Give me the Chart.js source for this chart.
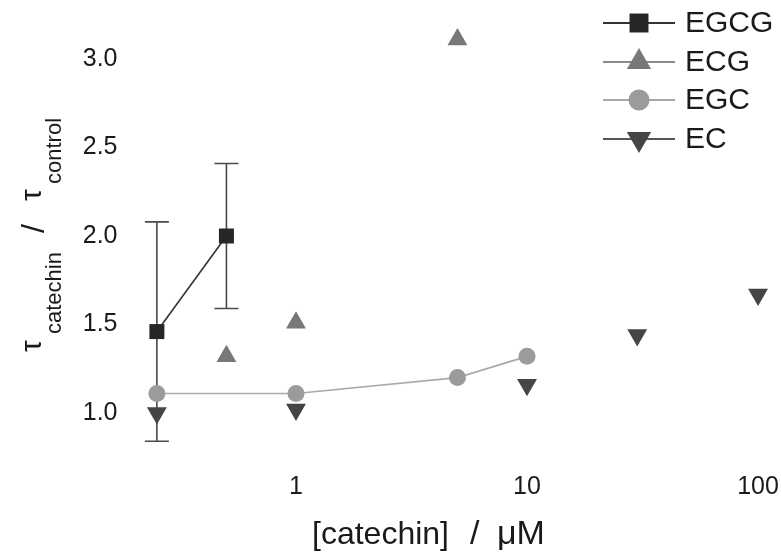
<!DOCTYPE html>
<html>
<head>
<meta charset="utf-8">
<script src="https://cdn.jsdelivr.net/npm/chart.js@4.4.1/dist/chart.umd.min.js"></script>
<style>
html,body{margin:0;padding:0;background:#fff;}
#wrap{width:781px;height:555px;position:relative;}
</style>
</head>
<body>
<div id="wrap"><canvas id="c" width="781" height="555"></canvas></div>
<script>
// ---- data ----
const seriesNames = ['EGCG', 'ECG', 'EGC', 'EC'];
const egcgX = [0.25, 0.5];
const egcgY = [1.46, 2.0];
const egcgErr = [0.62, 0.41];
const ecgX = [0.5, 1, 5];
const ecgY = [1.32, 1.51, 3.11];
const egcX = [0.25, 1, 5, 10];
const egcY = [1.11, 1.11, 1.20, 1.32];
const ecX = [0.25, 1, 10, 30, 100];
const ecY = [1.00, 1.02, 1.16, 1.44, 1.67];
const xTicks = [1, 10, 100];
const yTicks = [1.0, 1.5, 2.0, 2.5, 3.0];

const FONT = "'Liberation Sans', Arial, Helvetica, sans-serif";
const pts = (xs, ys) => xs.map((x, i) => ({x: x, y: ys[i]}));

const errorBars = {
  id: 'errorBars',
  beforeDatasetsDraw(chart) {
    const ctx = chart.ctx, xs = chart.scales.x, ys = chart.scales.y;
    ctx.save();
    ctx.strokeStyle = '#4a4a4a';
    ctx.lineWidth = 1.6;
    egcgX.forEach((xv, i) => {
      const px = xs.getPixelForValue(xv);
      const top = ys.getPixelForValue(egcgY[i] + egcgErr[i]);
      const bot = ys.getPixelForValue(egcgY[i] - egcgErr[i]);
      ctx.beginPath();
      ctx.moveTo(px, top); ctx.lineTo(px, bot);
      ctx.moveTo(px - 12, top); ctx.lineTo(px + 12, top);
      ctx.moveTo(px - 12, bot); ctx.lineTo(px + 12, bot);
      ctx.stroke();
    });
    ctx.restore();
  }
};

function drawMarker(ctx, style, x, y, r, color) {
  ctx.fillStyle = color;
  ctx.beginPath();
  if (style === 'rect') {
    const h = r * Math.SQRT1_2;
    ctx.rect(x - h, y - h, 2 * h, 2 * h);
  } else if (style === 'circle') {
    ctx.arc(x, y, r, 0, Math.PI * 2);
  } else if (style === 'triangle') {
    ctx.moveTo(x, y - r);
    ctx.lineTo(x + r * Math.sin(Math.PI / 3), y + r / 2);
    ctx.lineTo(x - r * Math.sin(Math.PI / 3), y + r / 2);
    ctx.closePath();
  } else if (style === 'down') {
    ctx.moveTo(x, y + r);
    ctx.lineTo(x + r * Math.sin(Math.PI / 3), y - r / 2);
    ctx.lineTo(x - r * Math.sin(Math.PI / 3), y - r / 2);
    ctx.closePath();
  }
  ctx.fill();
}

const legendAndTitles = {
  id: 'legendAndTitles',
  afterDraw(chart) {
    const ctx = chart.ctx;
    ctx.save();
    // legend
    const rowsY = [23, 62, 100, 139];
    const styles = [['rect', 13.4, '#262626', '#333333'],
                    ['triangle', 14, '#787878', '#8a8a8a'],
                    ['circle', 10.5, '#9b9b9b', '#a8a8a8'],
                    ['down', 14, '#454545', '#555555']];
    chart.data.datasets.forEach((ds, i) => {
      const y = rowsY[i];
      const s = styles[i];
      ctx.strokeStyle = s[3];
      ctx.lineWidth = 2;
      ctx.beginPath(); ctx.moveTo(603, y); ctx.lineTo(675, y); ctx.stroke();
      drawMarker(ctx, s[0], 639, y, s[1], s[2]);
      ctx.fillStyle = '#1a1a1a';
      ctx.font = '30px ' + FONT;
      ctx.textAlign = 'left';
      ctx.textBaseline = 'middle';
      ctx.fillText(ds.label, 685, y + 1);
    });
    // x title
    ctx.fillStyle = '#1a1a1a';
    ctx.textAlign = 'left';
    ctx.textBaseline = 'alphabetic';
    ctx.font = '32px ' + FONT;
    ctx.fillText('[catechin]', 312, 544);
    ctx.font = '34px ' + FONT;
    ctx.fillText('/', 470, 544);
    ctx.fillText('\u03BCM', 497, 544);
    // y title (rotated)
    ctx.translate(0, 352);
    ctx.rotate(-Math.PI / 2);
    ctx.font = '30px ' + FONT;
    ctx.fillText('\u03C4', 0, 41);
    ctx.font = '22px ' + FONT;
    ctx.fillText('catechin', 18, 61);
    ctx.font = '32px ' + FONT;
    ctx.fillText('/', 119, 44);
    ctx.font = '30px ' + FONT;
    ctx.fillText('\u03C4', 151, 41);
    ctx.font = '22px ' + FONT;
    ctx.fillText('control', 168, 61);
    ctx.restore();
  }
};

const noPad = s => { s.paddingLeft = 0; s.paddingRight = 0; s.paddingTop = 0; s.paddingBottom = 0; };

new Chart(document.getElementById('c'), {
  type: 'scatter',
  data: {
    datasets: [
      { label: seriesNames[0], data: pts(egcgX, egcgY), showLine: true,
        borderColor: '#333333', borderWidth: 1.6, backgroundColor: '#262626',
        pointStyle: 'rect', pointRadius: 10.6, pointBorderWidth: 0, pointBackgroundColor: '#262626' },
      { label: seriesNames[1], data: pts(ecgX, ecgY), showLine: false,
        backgroundColor: '#787878', pointStyle: 'triangle', pointRadius: 11.5,
        pointBorderWidth: 0, pointBackgroundColor: '#787878' },
      { label: seriesNames[2], data: pts(egcX, egcY), showLine: true,
        borderColor: '#aaaaaa', borderWidth: 1.6, backgroundColor: '#9b9b9b',
        pointStyle: 'circle', pointRadius: 8.5, pointBorderWidth: 0, pointBackgroundColor: '#9b9b9b' },
      { label: seriesNames[3], data: pts(ecX, ecY), showLine: false,
        backgroundColor: '#454545', pointStyle: 'triangle', pointRotation: 180, pointRadius: 11.5,
        pointBorderWidth: 0, pointBackgroundColor: '#454545' }
    ]
  },
  options: {
    responsive: false,
    animation: false,
    clip: false,
    layout: { padding: { left: 0, right: 13.4, top: 23.6, bottom: 0 } },
    plugins: { legend: { display: false }, tooltip: { enabled: false } },
    scales: {
      x: {
        type: 'logarithmic', min: 0.2, max: 110,
        border: { display: false },
        grid: { display: false, drawTicks: false },
        afterBuildTicks: s => { s.ticks = xTicks.map(v => ({ value: v })); },
        afterFit: s => { s.height = 106.6; noPad(s); },
        ticks: { padding: 24, color: '#1a1a1a', font: { family: FONT, size: 25 },
                 maxRotation: 0, autoSkip: false, callback: v => String(v) }
      },
      y: {
        type: 'linear', min: 0.8, max: 3.2,
        border: { display: false },
        grid: { display: false, drawTicks: false },
        afterBuildTicks: s => { s.ticks = yTicks.map(v => ({ value: v })); },
        afterFit: s => { s.width = 134.5; noPad(s); },
        ticks: { padding: 17, color: '#1a1a1a', font: { family: FONT, size: 25 },
                 callback: v => Number(v).toFixed(1) }
      }
    }
  },
  plugins: [errorBars, legendAndTitles]
});
</script>
</body>
</html>
